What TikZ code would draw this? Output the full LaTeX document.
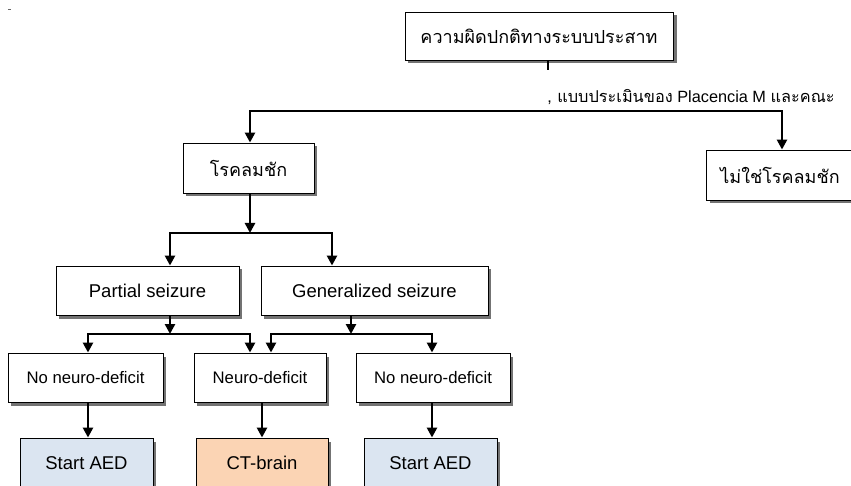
\documentclass[tikz,border=0pt]{standalone}
\usepackage{fontspec}
\setmainfont{Liberation Sans}
\newfontfamily\thaifont[Script=Thai]{Loma}
\usetikzlibrary{arrows.meta,shadows}

\definecolor{startblue}{HTML}{DBE5F1}
\definecolor{ctorange}{HTML}{FBD4B4}

\tikzset{
  box/.style={draw, line width=0.9pt, fill=white, inner sep=0pt, minimum height=49pt,
    font=\fontsize{18.5}{20}\selectfont,
    drop shadow={shadow xshift=3.5pt, shadow yshift=-3.5pt, fill=black!55, opacity=1}},
  thaibox/.style={box, font=\thaifont\fontsize{18}{21}\selectfont},
  smallbox/.style={box, font=\fontsize{16.7}{18}\selectfont},
  link/.style={line width=1.5pt, line cap=rect},
  arrow/.style={->, line width=2.5pt},
}

\begin{document}
\begin{tikzpicture}[>={Triangle[length=10pt,width=10pt]}]
    \useasboundingbox (-539pt,36pt) rectangle (312pt,-450pt);
    \clip (-539pt,36pt) rectangle (312pt,-450pt);
    \draw[black!60, line width=1pt] (-531pt,26pt) -- (-528pt,26pt);

    \node (top) [thaibox, minimum width=268pt, minimum height=48pt] {ความผิดปกติทางระบบประสาท};
    \node (seizure) [thaibox, minimum width=131pt, minimum height=50pt, node distance=132pt, below of=top, xshift=-290.5pt] {โรคลมชัก};
    \node (nonseizure) [thaibox, minimum width=148pt, minimum height=50pt, node distance=139pt, below of=top, xshift=241pt] {ไม่ใช่โรคลมชัก};
    \node (note) [node distance=61pt, below of=top, xshift=152pt, font=\fontsize{16.3}{18}\selectfont] {{\thaifont ,\ แบบประเมินของ} Placencia M {\thaifont และคณะ}};

    \node (partial) [box, minimum width=183pt, node distance=122.5pt, below of=seizure, xshift=-101pt] {Partial seizure};
    \node (general) [box, minimum width=227pt, node distance=227pt, right of=partial] {Generalized seizure};

    \node (nodef1) [smallbox, minimum width=155pt, node distance=87pt, below of=partial, xshift=-62pt] {No neuro-deficit};
    \node (deficit) [smallbox, minimum width=132pt, node distance=174.5pt, right of=nodef1] {Neuro-deficit};
    \node (nodef2) [smallbox, minimum width=154pt, node distance=173pt, right of=deficit] {No neuro-deficit};

    \node (aed1) [box, fill=startblue, minimum width=133pt, minimum height=50pt, node distance=85.5pt, below of=nodef1, xshift=1pt] {Start AED};
    \node (ct) [box, fill=ctorange, minimum width=132pt, minimum height=50pt, node distance=175.5pt, right of=aed1] {CT-brain};
    \node (aed2) [box, fill=startblue, minimum width=133pt, minimum height=50pt, node distance=168.5pt, right of=ct] {Start AED};

    % top split
    \coordinate (stub) at ([xshift=9pt, yshift=-34pt]top.center);
    \draw[line width=2.5pt] ([xshift=9pt]top.south) -- (stub);
    \coordinate (fork) at ([yshift=-75pt]top.center);
    \draw[link] ([xshift=1.5pt]seizure.north |- fork) -- ([xshift=2pt]nonseizure.north |- fork);
    \draw[arrow] ([xshift=1.5pt]seizure.north |- fork) -- ([xshift=1.5pt]seizure.north);
    \draw[arrow] ([xshift=2pt]nonseizure.north |- fork) -- ([xshift=2pt]nonseizure.north);

    % seizure types
    \coordinate (split1) at ([yshift=-65pt]seizure.center);
    \draw[arrow] ([xshift=1.5pt]seizure.south) -- ([xshift=1.5pt]seizure.south |- split1);
    \draw[link] ([xshift=22.5pt]partial.north |- split1) -- ([xshift=-42.5pt]general.north |- split1);
    \draw[arrow] ([xshift=22.5pt]partial.north |- split1) -- ([xshift=22.5pt]partial.north);
    \draw[arrow] ([xshift=-42.5pt]general.north |- split1) -- ([xshift=-42.5pt]general.north);

    % deficit
    \coordinate (split2) at ([yshift=-43.5pt]partial.center);
    \draw[arrow] ([xshift=22.5pt]partial.south) -- ([xshift=22.5pt]partial.south |- split2);
    \draw[link] ([xshift=2.5pt]nodef1.north |- split2) -- ([xshift=-10pt]deficit.north |- split2);
    \draw[arrow] ([xshift=2.5pt]nodef1.north |- split2) -- ([xshift=2.5pt]nodef1.north);
    \draw[arrow] ([xshift=-10pt]deficit.north |- split2) -- ([xshift=-10pt]deficit.north);
    \draw[arrow] ([xshift=-23.5pt]general.south) -- ([xshift=-23.5pt]general.south |- split2);
    \draw[link] ([xshift=11pt]deficit.north |- split2) -- ([xshift=-1pt]nodef2.north |- split2);
    \draw[arrow] ([xshift=11pt]deficit.north |- split2) -- ([xshift=11pt]deficit.north);
    \draw[arrow] ([xshift=-1pt]nodef2.north |- split2) -- ([xshift=-1pt]nodef2.north);

    % treatment
    \draw[arrow] ([xshift=2.5pt]nodef1.south) -- ([xshift=2.5pt]nodef1.south |- aed1.north);
    \draw[arrow] ([xshift=2pt]deficit.south) -- ([xshift=2pt]deficit.south |- ct.north);
    \draw[arrow] ([xshift=-1pt]nodef2.south) -- ([xshift=-1pt]nodef2.south |- aed2.north);
\end{tikzpicture}
\end{document}
